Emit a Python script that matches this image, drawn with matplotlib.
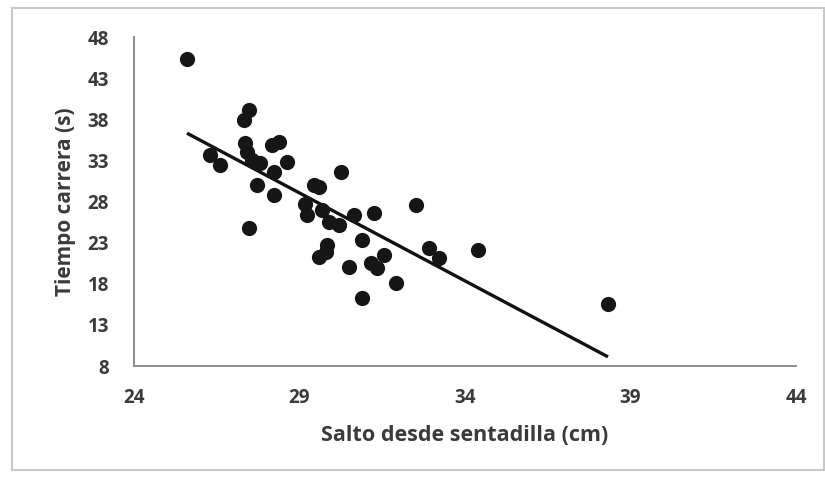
import numpy as np
import matplotlib
matplotlib.use("Agg")
import matplotlib.pyplot as plt
from matplotlib.patches import Rectangle

# Salto desde sentadilla (cm) vs tiempo de carrera (s)
salto_cm = [25.60, 27.46, 27.31, 27.36, 27.41, 27.56, 28.17, 28.37, 28.62, 28.22,
            27.72, 28.22, 26.30, 26.61, 27.82, 27.46, 30.24, 29.43, 29.58, 29.18,
            29.23, 29.68, 29.89, 30.19, 30.64, 31.25, 30.90, 29.84, 29.58, 29.79,
            30.49, 31.15, 31.35, 31.55, 32.51, 31.91, 30.90, 32.92, 33.22, 34.38,
            38.32]
tiempo_s = [45.29, 39.12, 37.90, 35.08, 34.06, 33.05, 34.87, 35.27, 32.84, 31.62,
            30.00, 28.79, 33.65, 32.44, 32.68, 24.74, 31.62, 30.00, 29.80, 27.73,
            26.36, 26.97, 25.54, 25.14, 26.36, 26.57, 23.32, 22.71, 21.29, 21.90,
            20.07, 20.49, 19.88, 21.50, 27.57, 18.05, 16.23, 22.31, 21.09, 22.10,
            15.50]

# Linear trend line
trend_slope = -2.138
trend_intercept = 91.04

x_ticks = [24, 29, 34, 39, 44]
y_ticks = [8, 13, 18, 23, 28, 33, 38, 43, 48]

x_label = "Salto desde sentadilla (cm)"
y_label = "Tiempo carrera (s)"

plt.rcParams["font.family"] = ["Open Sans", "DejaVu Sans"]

fig = plt.figure(figsize=(8.25, 4.78), dpi=100)
fig.patch.set_facecolor("white")
ax = fig.add_axes([134 / 825, 1 - 366 / 478, (796 - 134) / 825, (366 - 37) / 478])

text_color = "#3a3a3a"

ax.scatter(salto_cm, tiempo_s, s=120, color="#161616", zorder=3, linewidths=0)

x_arr = np.array(salto_cm)
xt = np.array([x_arr.min(), x_arr.max()])
ax.plot(xt, trend_slope * xt + trend_intercept, color="#111111", lw=2.4,
        solid_capstyle="butt", zorder=2)

ax.set_xlim(24, 44)
ax.set_ylim(8, 48)
ax.set_xticks(x_ticks)
ax.set_yticks(y_ticks)
ax.set_xticklabels([str(v) for v in x_ticks])
ax.set_yticklabels([str(v) for v in y_ticks])
ax.tick_params(axis="both", length=0, labelsize=13.5, labelcolor=text_color)
ax.tick_params(axis="x", pad=16)
ax.tick_params(axis="y", pad=18)
for lab in ax.get_xticklabels() + ax.get_yticklabels():
    lab.set_fontweight("bold")

for side in ("top", "right"):
    ax.spines[side].set_visible(False)
for side in ("left", "bottom"):
    ax.spines[side].set_color("#8c8c8c")
    ax.spines[side].set_linewidth(1.4)

ax.set_xlabel(x_label, fontsize=15.5, color=text_color, fontweight="bold", labelpad=12)
ax.set_ylabel(y_label, fontsize=15, color=text_color, fontweight="bold", labelpad=8)

fig.patches.append(Rectangle((12 / 825, 1 - 470 / 478), (824 - 12) / 825, (470 - 8) / 478,
                             transform=fig.transFigure, fill=False,
                             edgecolor="#c8c8c8", lw=1.5, zorder=0))

fig.savefig("out.png", dpi=100, facecolor="white")
